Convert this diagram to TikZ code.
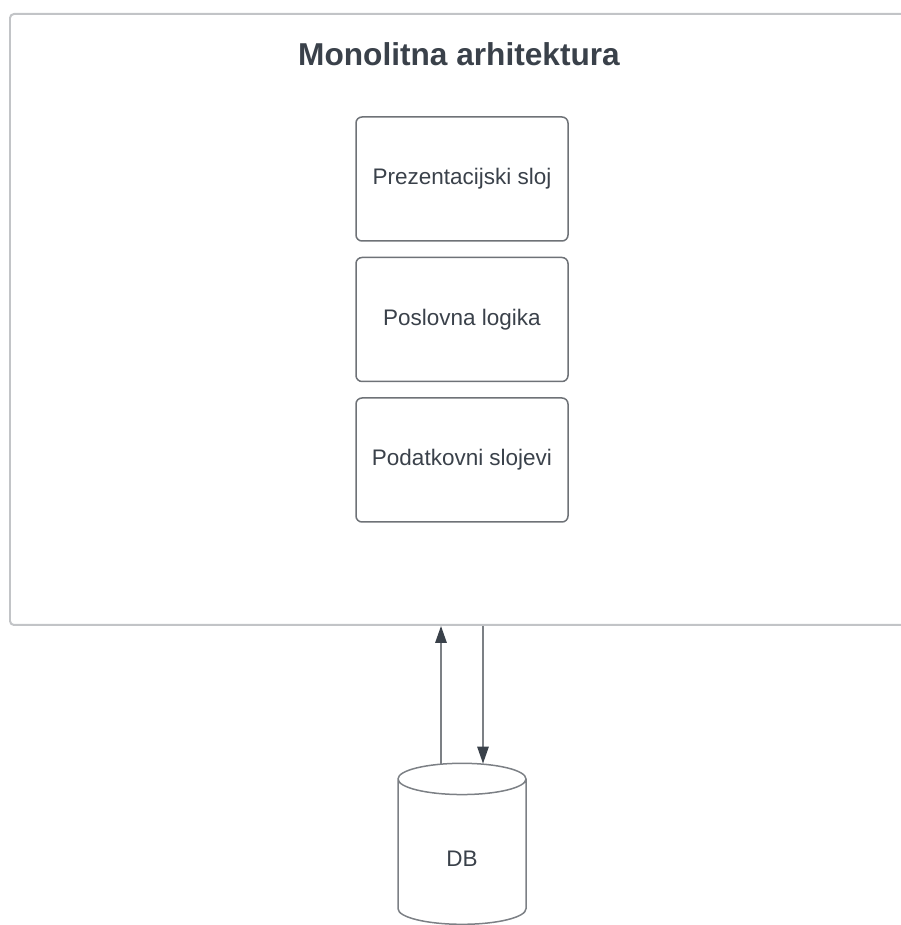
\documentclass[tikz,border=0pt]{standalone}
\usepackage{fontspec}
\setmainfont{Liberation Sans}
\usetikzlibrary{positioning}
\usetikzlibrary{arrows.meta}
\usetikzlibrary{shapes.geometric}
\definecolor{textgray}{HTML}{3A414A}
\definecolor{framegray}{HTML}{C2C4C7}
\definecolor{boxgray}{HTML}{6E7277}
\definecolor{arrowgray}{HTML}{7C8085}
\tikzset{
        layernode/.style={align=center,inner sep=0pt,text=textgray},
        % Outer frame
        node_frame/.style={layernode, rectangle, rounded corners=0.08cm, draw=framegray, line width=0.04cm, minimum width=18.2cm, minimum height=12.22cm},
        % Title
        node_title/.style={layernode, font=\bfseries\fontsize{18}{21}\selectfont},
        % Layer boxes
        node_layer/.style={layernode, rectangle, rounded corners=0.12cm, draw=boxgray, line width=0.03cm, minimum width=4.24cm, minimum height=2.48cm, font=\fontsize{12.8}{15}\selectfont},
        % Database
        node_db/.style={layernode, cylinder, shape border rotate=90, aspect=1, draw=arrowgray, line width=0.03cm, minimum width=2.56cm, minimum height=3.22cm, text height=0.6cm, text depth=0pt, font=\fontsize{12.8}{15}\selectfont},
        % Connectors
        conn/.style={draw=arrowgray, line width=0.03cm, -{Triangle[length=0.34cm,width=0.23cm,color=textgray]}}
}
\begin{document}
\begin{tikzpicture}
    \useasboundingbox (0,0) rectangle (18.02,18.5);
    \clip (0,0) rectangle (18.02,18.5);
    \node[node_frame] (frame) at (9.3,12.11) {};
    \node[node_title] (title) at (9.18,17.42) {Monolitna arhitektura};
    \node[node_layer] (pres) at (9.24,14.92) {Prezentacijski sloj};
    \node[node_layer, below=0.3cm of pres] (logic) {Poslovna logika};
    \node[node_layer, below=0.3cm of logic] (data) {Podatkovni slojevi};
    \node[node_db] (db) at (9.24,1.46) {DB};
    % DB <-> frame
    \draw[conn] ([xshift=-0.42cm,yshift=-0.02cm]db.north) -- ([xshift=-0.42cm]db.north |- frame.south);
    \draw[conn] ([xshift=0.42cm]db.north |- frame.south) -- ([xshift=0.42cm,yshift=-0.02cm]db.north);
\end{tikzpicture}
\end{document}
